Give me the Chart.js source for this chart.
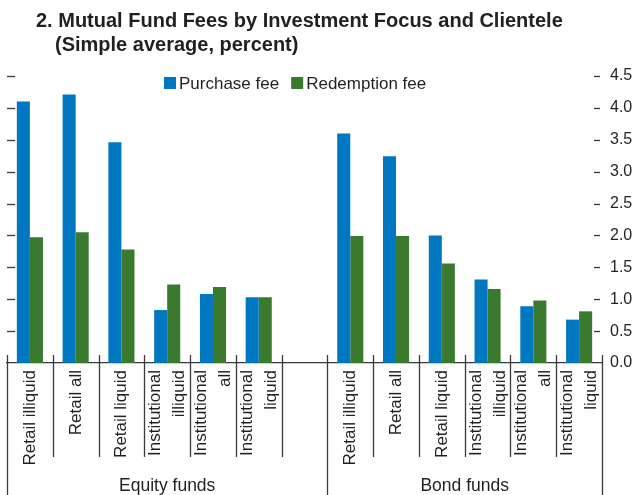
<!DOCTYPE html>
<html>
<head>
<meta charset="utf-8">
<script src="https://cdn.jsdelivr.net/npm/chart.js@4.4.1/dist/chart.umd.min.js"></script>
<style>
  html, body { margin: 0; padding: 0; background: #fff; }
  #wrap { position: relative; width: 639px; height: 495px; }
</style>
</head>
<body>
<div id="wrap"><canvas id="feesChart" width="639" height="495"></canvas></div>
<script>
// Chart data
const titleLines = ['2. Mutual Fund Fees by Investment Focus and Clientele', '(Simple average, percent)'];
const categories = [
    'Retail illiquid', 'Retail all', 'Retail liquid',
    ['Institutional', 'illiquid'], ['Institutional', 'all'], ['Institutional', 'liquid'],
    '',
    'Retail illiquid', 'Retail all', 'Retail liquid',
    ['Institutional', 'illiquid'], ['Institutional', 'all'], ['Institutional', 'liquid']
];
const groups = ['Equity funds', 'Bond funds'];
const purchaseFee = [4.10, 4.21, 3.46, 0.83, 1.08, 1.03, null, 3.60, 3.24, 2.00, 1.31, 0.89, 0.68];
const redemptionFee = [1.97, 2.05, 1.78, 1.23, 1.19, 1.03, null, 1.99, 1.99, 1.56, 1.16, 0.98, 0.81];
const yMin = 0;
const yMax = 4.5;
const yStep = 0.5;

const BLUE = '#0077c1';
const GREEN = '#397a2e';
const TEXT = '#231f20';
const LINE = '#3a3a3a';
const FONT = '"Liberation Sans", Arial, sans-serif';

// Draws title, legend, tick dashes, category separators and labels
const overlay = {
    id: 'overlay',
    afterDraw(chart) {
        const ctx = chart.ctx;
        const a = chart.chartArea;
        const x = chart.scales.x;
        const y = chart.scales.y;
        ctx.save();

        // title
        ctx.fillStyle = TEXT;
        ctx.textAlign = 'left';
        ctx.textBaseline = 'alphabetic';
        ctx.font = 'bold 20px ' + FONT;
        ctx.fillText(titleLines[0], 36, 27);
        ctx.fillText(titleLines[1], 55, 51);

        // legend
        ctx.font = '17px ' + FONT;
        let lx = 164;
        chart.data.datasets.forEach(ds => {
            ctx.fillStyle = ds.backgroundColor;
            ctx.fillRect(lx, 77, 12, 12);
            ctx.fillStyle = TEXT;
            ctx.fillText(ds.label, lx + 15, 89);
            lx += 15 + ctx.measureText(ds.label).width + 12;
        });

        // little dashes on both sides for each tick
        ctx.strokeStyle = LINE;
        ctx.lineWidth = 1.3;
        function seg(x1, y1, x2, y2) {
            ctx.beginPath();
            ctx.moveTo(x1, y1);
            ctx.lineTo(x2, y2);
            ctx.stroke();
        }
        y.ticks.forEach(t => {
            if (t.value === 0) return;
            const py = Math.round(y.getPixelForValue(t.value)) + 0.5;
            seg(a.left, py, a.left + 8, py);
            seg(a.right - 8, py, a.right - 2, py);
        });

        // category separators below the axis
        const n = categories.length;
        const step = x.getPixelForValue(1) - x.getPixelForValue(0);
        const gap = categories.indexOf('');
        for (let k = 0; k <= n; k++) {
            const bx = Math.round(x.getPixelForValue(0) - step / 2 + k * step) + 0.5;
            const isLong = k === 0 || k === n || k === gap + 1;
            seg(bx, a.bottom - 8, bx, isLong ? chart.height : a.bottom + 94);
        }

        // rotated category labels
        ctx.fillStyle = TEXT;
        ctx.font = '17px ' + FONT;
        ctx.textAlign = 'right';
        categories.forEach((c, i) => {
            const lines = [].concat(c);
            const cx = x.getPixelForValue(i);
            lines.forEach((txt, j) => {
                const bx = cx + 5 + (j - (lines.length - 1) / 2) * 24;
                ctx.save();
                ctx.translate(bx, a.bottom + 7);
                ctx.rotate(-Math.PI / 2);
                ctx.fillText(txt, 0, 0);
                ctx.restore();
            });
        });

        // group labels
        ctx.textAlign = 'center';
        ctx.font = '17.5px ' + FONT;
        const left = x.getPixelForValue(0) - step / 2;
        const mid = x.getPixelForValue(gap) + step / 2;
        ctx.fillText(groups[0], (left + mid) / 2, 491);
        ctx.fillText(groups[1], (mid + a.right) / 2, 491);

        ctx.restore();
    }
};

const ctx = document.getElementById('feesChart').getContext('2d');
const feesChart = new Chart(ctx, {
    type: 'bar',
    data: {
        labels: categories,
        datasets: [{
            label: 'Purchase fee',
            data: purchaseFee,
            backgroundColor: BLUE
        }, {
            label: 'Redemption fee',
            data: redemptionFee,
            backgroundColor: GREEN
        }]
    },
    options: {
        responsive: false,
        animation: false,
        devicePixelRatio: 1,
        categoryPercentage: 0.57,
        barPercentage: 1.0,
        layout: {
            padding: { left: 7, top: 76, right: 0, bottom: 0 }
        },
        plugins: {
            legend: { display: false },
            title: { display: false },
            tooltip: { enabled: false }
        },
        scales: {
            x: {
                grid: { display: false },
                border: { display: true, color: LINE, width: 1.3 },
                ticks: { display: false },
                afterFit: scale => { scale.height = 132; }
            },
            y: {
                position: 'right',
                min: yMin,
                max: yMax,
                grid: { display: false, drawTicks: false },
                border: { display: false },
                ticks: {
                    stepSize: yStep,
                    padding: 8,
                    color: TEXT,
                    font: { family: FONT, size: 16 },
                    callback: v => Number(v).toFixed(1)
                },
                afterFit: scale => { scale.width = 37; }
            }
        }
    },
    plugins: [overlay]
});
</script>
</body>
</html>
